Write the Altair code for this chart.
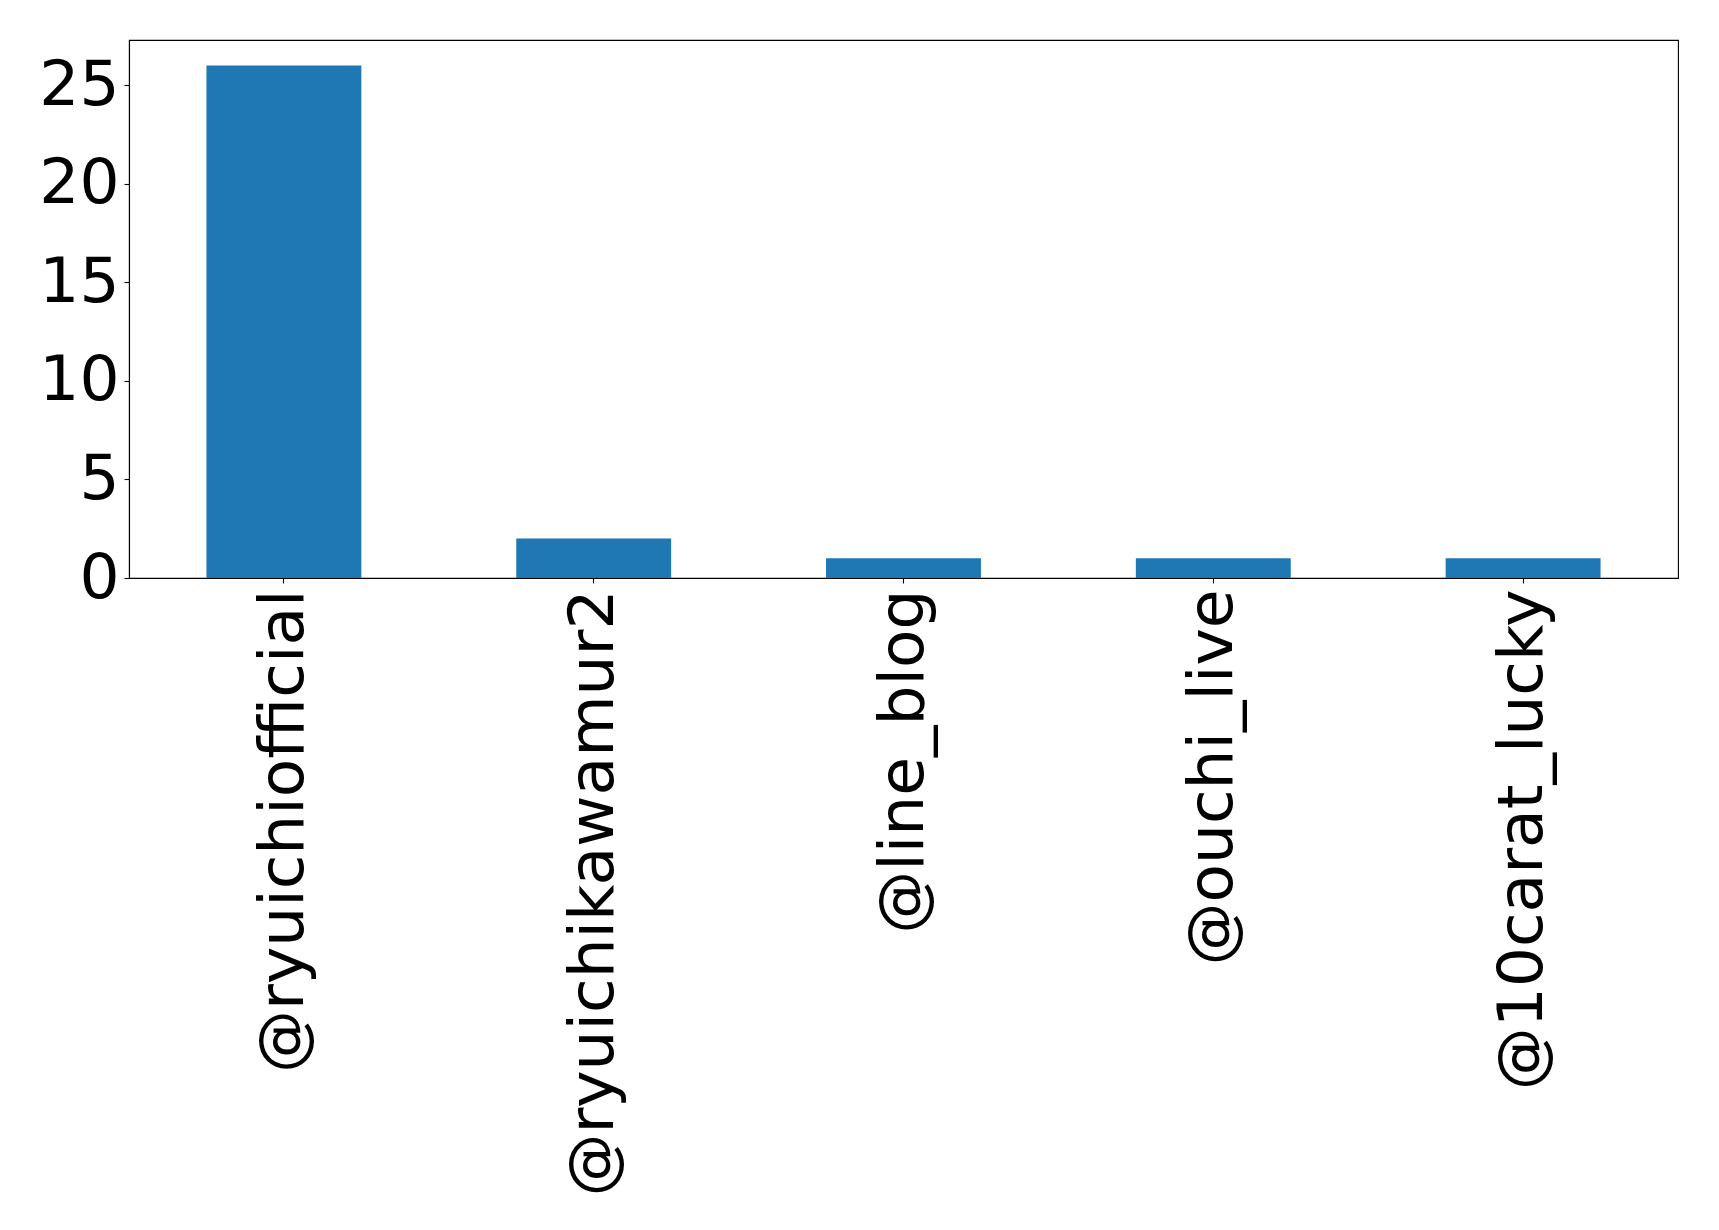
import altair as alt
import pandas as pd

# Mention counts per account
accounts = ["@ryuichiofficial", "@ryuichikawamur2", "@line_blog", "@ouchi_live", "@10carat_lucky"]
counts = [26, 2, 1, 1, 1]
y_ticks = [0, 5, 10, 15, 20, 25]

df = pd.DataFrame({"account": accounts, "count": counts})

FONT = "DejaVu Sans"
SIZE = 63

bars = alt.Chart(df).mark_bar(color="#1f77b4").encode(
    x=alt.X(
        "account:N",
        sort=accounts,
        title=None,
        scale=alt.Scale(paddingInner=0.5, paddingOuter=0.25),
        axis=alt.Axis(
            labelAngle=270,
            labelFont=FONT,
            labelFontSize=SIZE,
            labelColor="black",
            labelPadding=6,
            labelLimit=0,
            tickColor="black",
            tickSize=5,
            tickWidth=1.1,
            domainColor="black",
            domainWidth=1.1,
        ),
    ),
    y=alt.Y(
        "count:Q",
        title=None,
        scale=alt.Scale(domain=[0, 27.3], nice=False),
        axis=alt.Axis(
            values=y_ticks,
            grid=False,
            labelFont=FONT,
            labelFontSize=SIZE,
            labelColor="black",
            labelPadding=5,
            tickColor="black",
            tickSize=5,
            tickWidth=1.1,
            domainColor="black",
            domainWidth=1.1,
        ),
    ),
)

chart = bars.properties(
    width=1549,
    height=538,
    background="white",
    autosize=alt.AutoSizeParams(type="none"),
    padding={"left": 129, "top": 40, "right": 41, "bottom": 652},
).configure_view(
    stroke="black",
    strokeWidth=1.1,
)

chart.save("out.html", embed_options={"renderer": "svg", "actions": False})
